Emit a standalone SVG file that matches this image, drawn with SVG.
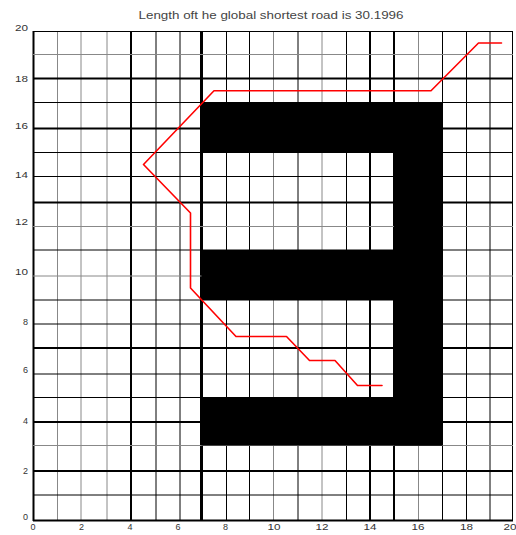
<svg xmlns="http://www.w3.org/2000/svg" width="516" height="535" viewBox="0 0 516 535">
<style>
.g{stroke:#888;stroke-width:1;fill:none}
.b1{stroke:#000;stroke-width:1;fill:none}
.b2{stroke:#000;stroke-width:2;fill:none}
.b3{stroke:#000;stroke-width:3;fill:none}
.obs{fill:#000}
.path{fill:none;stroke:#ff0000;stroke-width:1.6;stroke-linejoin:round;stroke-linecap:round}
.lbl{font-family:"Liberation Sans",Arial,sans-serif;font-size:9px;fill:#333}
.title{font-family:"Liberation Sans",Arial,sans-serif;font-size:11px;fill:#444}
</style>
<rect width="516" height="535" fill="#fff"/>
<g id="title"><text class="title" x="271" y="19" text-anchor="middle" textLength="265" lengthAdjust="spacingAndGlyphs">Length oft he global shortest road is 30.1996</text></g>
<g id="grid">
<line class="b2" x1="33.5" y1="31" x2="33.5" y2="521"/>
<line class="g" x1="57.5" y1="31" x2="57.5" y2="521"/>
<line class="g" x1="81" y1="31" x2="81" y2="521"/>
<line class="g" x1="107" y1="31" x2="107" y2="521"/>
<line class="b2" x1="131" y1="31" x2="131" y2="521"/>
<line class="b1" x1="156" y1="31" x2="156" y2="521"/>
<line class="b1" x1="180" y1="31" x2="180" y2="521"/>
<line class="b3" x1="201.5" y1="31" x2="201.5" y2="521"/>
<line class="b1" x1="226.5" y1="31" x2="226.5" y2="521"/>
<line class="b1" x1="249.5" y1="31" x2="249.5" y2="521"/>
<line class="g" x1="273.5" y1="31" x2="273.5" y2="521"/>
<line class="b1" x1="298" y1="31" x2="298" y2="521"/>
<line class="g" x1="322" y1="31" x2="322" y2="521"/>
<line class="b1" x1="346.5" y1="31" x2="346.5" y2="521"/>
<line class="b2" x1="370" y1="31" x2="370" y2="521"/>
<line class="b2" x1="394" y1="31" x2="394" y2="521"/>
<line class="g" x1="418.5" y1="31" x2="418.5" y2="521"/>
<line class="b1" x1="442.5" y1="31" x2="442.5" y2="521"/>
<line class="b1" x1="466.5" y1="31" x2="466.5" y2="521"/>
<line class="b1" x1="490" y1="31" x2="490" y2="521"/>
<line class="b1" x1="512.5" y1="31" x2="512.5" y2="521"/>
<line class="b1" x1="33" y1="31.5" x2="513" y2="31.5"/>
<line class="g" x1="33" y1="54.5" x2="513" y2="54.5"/>
<line class="b2" x1="33" y1="78.5" x2="513" y2="78.5"/>
<line class="b1" x1="33" y1="102.5" x2="513" y2="102.5"/>
<line class="b2" x1="33" y1="128.5" x2="513" y2="128.5"/>
<line class="b1" x1="33" y1="152.5" x2="513" y2="152.5"/>
<line class="b1" x1="33" y1="176.5" x2="513" y2="176.5"/>
<line class="b2" x1="33" y1="202.5" x2="513" y2="202.5"/>
<line class="g" x1="33" y1="226.5" x2="513" y2="226.5"/>
<line class="b1" x1="33" y1="250" x2="513" y2="250"/>
<line class="g" x1="33" y1="276" x2="513" y2="276"/>
<line class="b1" x1="33" y1="300" x2="513" y2="300"/>
<line class="b1" x1="33" y1="324" x2="513" y2="324"/>
<line class="b2" x1="33" y1="348" x2="513" y2="348"/>
<line class="b1" x1="33" y1="374" x2="513" y2="374"/>
<line class="b1" x1="33" y1="397.5" x2="513" y2="397.5"/>
<line class="b2" x1="33" y1="422" x2="513" y2="422"/>
<line class="g" x1="33" y1="445.5" x2="513" y2="445.5"/>
<line class="b2" x1="33" y1="471" x2="513" y2="471"/>
<line class="b1" x1="33" y1="495" x2="513" y2="495"/>
<line class="b2" x1="33" y1="520.5" x2="513" y2="520.5"/>
</g>
<g id="obstacles">
<rect class="obs" x="201.5" y="102.5" width="241" height="50"/>
<rect class="obs" x="201.5" y="250" width="241" height="50"/>
<rect class="obs" x="201.5" y="397.5" width="241" height="48"/>
<rect class="obs" x="394" y="102.5" width="48.5" height="343"/>
</g>
<g id="connectors">
<polyline class="path" points="501.5,43 478.5,43 431,90.8 214,90.8 143.5,164.5 190.5,213 190.5,288 236,336.5 286.5,336.5 309.5,360.5 335,360.5 357.5,385.5 382,385.5"/>
</g>
<g id="ylabels" class="lbl" text-anchor="end">
<text x="28" y="31" textLength="13" lengthAdjust="spacingAndGlyphs">20</text>
<text x="28" y="82" textLength="13" lengthAdjust="spacingAndGlyphs">18</text>
<text x="28" y="129" textLength="13" lengthAdjust="spacingAndGlyphs">16</text>
<text x="28" y="178" textLength="13" lengthAdjust="spacingAndGlyphs">14</text>
<text x="28" y="225" textLength="13" lengthAdjust="spacingAndGlyphs">12</text>
<text x="28" y="275" textLength="13" lengthAdjust="spacingAndGlyphs">10</text>
<text x="28" y="325">8</text>
<text x="28" y="373">6</text>
<text x="28" y="424">4</text>
<text x="28" y="474">2</text>
<text x="28" y="520">0</text>
</g>
<g id="xlabels" class="lbl" text-anchor="middle">
<text x="33" y="530">0</text>
<text x="81.5" y="530">2</text>
<text x="130" y="530">4</text>
<text x="178" y="530">6</text>
<text x="225.5" y="530">8</text>
<text x="274" y="530" textLength="13" lengthAdjust="spacingAndGlyphs">10</text>
<text x="322" y="530" textLength="13" lengthAdjust="spacingAndGlyphs">12</text>
<text x="370" y="530" textLength="13" lengthAdjust="spacingAndGlyphs">14</text>
<text x="418" y="530" textLength="13" lengthAdjust="spacingAndGlyphs">16</text>
<text x="466.5" y="530" textLength="13" lengthAdjust="spacingAndGlyphs">18</text>
<text x="510" y="530" textLength="13" lengthAdjust="spacingAndGlyphs">20</text>
</g>
</svg>
